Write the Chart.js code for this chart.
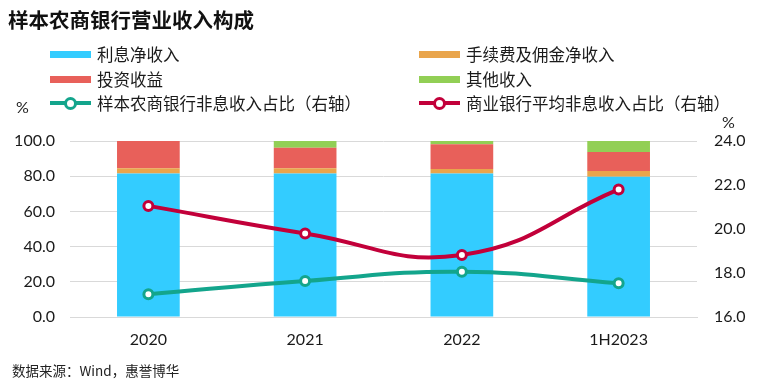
<!DOCTYPE html>
<html>
<head>
<meta charset="utf-8">
<script src="https://cdn.jsdelivr.net/npm/chart.js@4/dist/chart.umd.min.js"></script>
<style>
  html, body { margin: 0; padding: 0; background: #fff; }
  #wrap { position: relative; width: 770px; height: 386px; overflow: hidden; font-family: "Noto Sans CJK SC", "Noto Sans", sans-serif; color: #1a1a1a; }
  #c { position: absolute; left: 0; top: 0; }
  .abs { position: absolute; white-space: nowrap; }
  #title { left: 8px; top: 6px; font-size: 20.5px; font-weight: bold; line-height: 26px; color: #111; }
  #source { left: 12px; top: 361px; font-size: 13.5px; line-height: 18px; color: #222; }
  .unit { font-family: Lato, sans-serif; font-size: 16px; line-height: 18px; color: #222; }
  .lg-item { position: absolute; height: 22px; display: flex; align-items: center; font-size: 16.5px; color: #1a1a1a; }
  .lg-sw { position: absolute; }
</style>
</head>
<body>
<div id="wrap">
  <canvas id="c" width="770" height="386"></canvas>
  <div id="title" class="abs">样本农商银行营业收入构成</div>
  <div id="legend"></div>
  <div class="abs unit" style="left:16px; top:98px;">%</div>
  <div class="abs unit" style="left:722px; top:113px;">%</div>
  <div id="source" class="abs">数据来源：Wind，惠誉博华</div>
</div>
<script>
// ---- data ----
const categories = ['2020', '2021', '2022', '1H2023'];
const netInterestIncome = [81.6, 81.6, 81.6, 79.7];     // 利息净收入
const feeCommissionIncome = [2.9, 2.9, 2.5, 3.3];       // 手续费及佣金净收入
const investmentIncome = [15.5, 11.7, 14.0, 10.7];      // 投资收益
const otherIncome = [0, 3.8, 1.9, 6.3];                 // 其他收入
const sampleNonInterestShare = [17.03, 17.64, 18.06, 17.53]; // 样本农商银行非息收入占比（右轴）
const bankAvgNonInterestShare = [21.05, 19.8, 18.82, 21.8];  // 商业银行平均非息收入占比（右轴）
const leftTicks = [0, 20, 40, 60, 80, 100];
const rightTicks = [16, 18, 20, 22, 24];

const seriesNames = ['利息净收入', '手续费及佣金净收入', '投资收益', '其他收入',
  '样本农商银行非息收入占比（右轴）', '商业银行平均非息收入占比（右轴）'];
const colors = {
  blue: '#33CCFF', orange: '#E9A54C', red: '#E8605A', green: '#92CF55',
  teal: '#13A58C', crimson: '#C2003A'
};

// ---- legend (HTML, two columns) ----
const legendSpec = [
  { name: seriesNames[0], color: colors.blue, type: 'bar', x: 50, y: 54 },
  { name: seriesNames[1], color: colors.orange, type: 'bar', x: 419, y: 54 },
  { name: seriesNames[2], color: colors.red, type: 'bar', x: 50, y: 79 },
  { name: seriesNames[3], color: colors.green, type: 'bar', x: 419, y: 79 },
  { name: seriesNames[4], color: colors.teal, type: 'line', x: 50, y: 103 },
  { name: seriesNames[5], color: colors.crimson, type: 'line', x: 419, y: 103 }
];
const lg = document.getElementById('legend');
legendSpec.forEach(s => {
  const it = document.createElement('div');
  it.className = 'lg-item';
  it.style.left = s.x + 'px';
  it.style.top = (s.y - 11) + 'px';
  it.style.paddingLeft = '47px';
  if (s.type === 'bar') {
    it.innerHTML = '<span class="lg-sw" style="left:0;top:8px;width:41px;height:7px;background:' + s.color + '"></span>';
  } else {
    it.innerHTML = '<span class="lg-sw" style="left:0;top:9px;width:41px;height:4px;background:' + s.color + '"></span>' +
      '<span class="lg-sw" style="left:14px;top:5px;width:7px;height:7px;border:3px solid ' + s.color + ';border-radius:50%;background:#fff"></span>';
  }
  const t = document.createElement('span');
  t.textContent = s.name;
  it.appendChild(t);
  lg.appendChild(it);
});

// ---- chart ----
const tickFont = { family: 'Lato', size: 16 };
const barCommon = { categoryPercentage: 1.0, barPercentage: 0.4, yAxisID: 'y', stack: 's', order: 2, borderWidth: 0 };
const lineCommon = { type: 'line', yAxisID: 'y1', borderWidth: 4, tension: 0.45, pointRadius: 4.5,
  pointBorderWidth: 3, pointBackgroundColor: '#fff', pointHoverRadius: 4.5, fill: false };

new Chart(document.getElementById('c'), {
  type: 'bar',
  data: {
    labels: categories,
    datasets: [
      Object.assign({ label: seriesNames[4], data: sampleNonInterestShare, borderColor: colors.teal, pointBorderColor: colors.teal, order: 1 }, lineCommon),
      Object.assign({ label: seriesNames[5], data: bankAvgNonInterestShare, borderColor: colors.crimson, pointBorderColor: colors.crimson, order: 0 }, lineCommon),
      Object.assign({ label: seriesNames[0], data: netInterestIncome, backgroundColor: colors.blue }, barCommon),
      Object.assign({ label: seriesNames[1], data: feeCommissionIncome, backgroundColor: colors.orange }, barCommon),
      Object.assign({ label: seriesNames[2], data: investmentIncome, backgroundColor: colors.red }, barCommon),
      Object.assign({ label: seriesNames[3], data: otherIncome, backgroundColor: colors.green }, barCommon)
    ]
  },
  options: {
    responsive: false,
    animation: false,
    devicePixelRatio: 1,
    layout: { padding: { top: 141, left: 0, right: 0, bottom: 0 } },
    plugins: { legend: { display: false }, title: { display: false }, tooltip: { enabled: false } },
    scales: {
      x: {
        stacked: true,
        grid: { display: false, drawTicks: false },
        border: { display: true, color: '#D9D9D9', width: 1 },
        ticks: { font: tickFont, color: '#1a1a1a', padding: 13 },
        afterFit: s => { s.height = 69; }
      },
      y: {
        stacked: true,
        position: 'left',
        min: 0, max: 100,
        afterBuildTicks: s => { s.ticks = leftTicks.map(v => ({ value: v })); },
        grid: { color: '#D9D9D9', lineWidth: 1, drawTicks: false },
        border: { display: false },
        ticks: { font: tickFont, color: '#1a1a1a', padding: 15, callback: v => Number(v).toFixed(1) },
        afterFit: s => { s.width = 70; }
      },
      y1: {
        stacked: false,
        position: 'right',
        min: 16, max: 24,
        afterBuildTicks: s => { s.ticks = rightTicks.map(v => ({ value: v })); },
        grid: { display: false, drawTicks: false },
        border: { display: false },
        ticks: { font: tickFont, color: '#1a1a1a', padding: 17, callback: v => Number(v).toFixed(1) },
        afterFit: s => { s.width = 73; }
      }
    }
  }
});
</script>
</body>
</html>
